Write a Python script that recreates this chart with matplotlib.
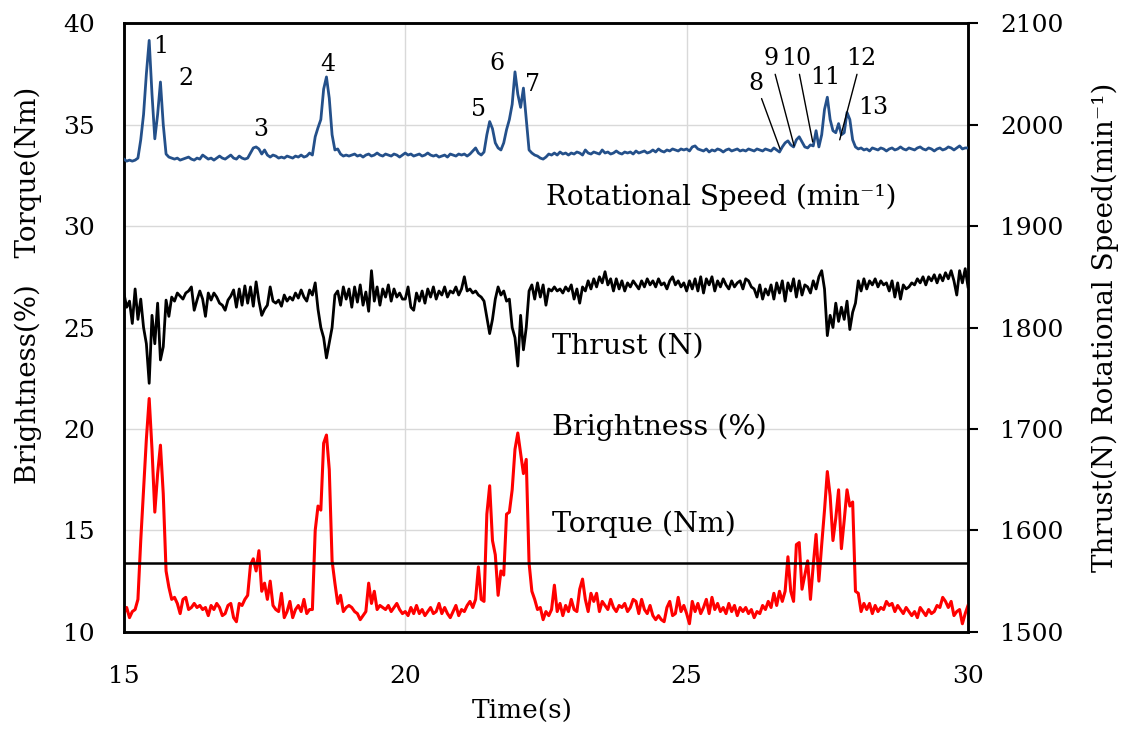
import numpy as np
import matplotlib
matplotlib.use("Agg")
import matplotlib.pyplot as plt

plt.rcParams['font.family'] = ['DejaVu Serif']

# ---------------- data (sampled every 0.05 s from 15.00 s to 30.00 s) ----------------
time = np.round(15 + 0.05 * np.arange(301), 2)

# Rotational speed (min^-1), right axis
rot_speed = [
    1966, 1964, 1965, 1964, 1965, 1967, 1985, 2010, 2050, 2083, 2030, 1986, 2010, 2042, 2000, 1971, 1968, 1967, 1966, 1967,  # 15
    1965, 1966, 1967, 1968, 1966, 1965, 1967, 1966, 1970, 1968, 1966, 1967, 1965, 1967, 1969, 1967, 1966, 1968, 1970, 1967,  # 16
    1966, 1969, 1967, 1966, 1967, 1972, 1977, 1978, 1976, 1971, 1975, 1970, 1968, 1970, 1969, 1967, 1968, 1967, 1969, 1968,  # 17
    1967, 1969, 1968, 1970, 1968, 1969, 1972, 1970, 1988, 1997, 2005, 2035, 2047, 2026, 1990, 1975, 1976, 1971, 1969, 1970,  # 18
    1969, 1970, 1971, 1969, 1970, 1968, 1970, 1971, 1969, 1970, 1972, 1970, 1969, 1971, 1970, 1969, 1971, 1970, 1968, 1970,  # 19
    1972, 1970, 1971, 1969, 1970, 1971, 1969, 1970, 1972, 1970, 1969, 1970, 1968, 1969, 1970, 1968, 1971, 1970, 1969, 1971,  # 20
    1970, 1971, 1969, 1971, 1974, 1977, 1972, 1970, 1973, 1990, 2003, 1996, 1982, 1977, 1975, 1982, 1995, 2005, 2020, 2052,  # 21
    2030, 2017, 2036, 2005, 1975, 1972, 1970, 1969, 1967, 1966, 1968, 1971, 1970, 1972, 1970, 1973, 1971, 1972, 1970, 1972,  # 22
    1971, 1973, 1972, 1970, 1975, 1972, 1971, 1973, 1972, 1971, 1975, 1972, 1973, 1971, 1972, 1974, 1972, 1971, 1973, 1972,  # 23
    1973, 1971, 1974, 1972, 1973, 1974, 1972, 1973, 1975, 1973, 1976, 1974, 1973, 1975, 1974, 1976, 1975, 1974, 1976, 1975,  # 24
    1976, 1974, 1978, 1979, 1976, 1975, 1974, 1976, 1973, 1975, 1974, 1976, 1975, 1973, 1975, 1976, 1974, 1975, 1976, 1974,  # 25
    1975, 1974, 1976, 1975, 1974, 1976, 1975, 1974, 1976, 1975, 1974, 1977, 1975, 1973, 1978, 1982, 1984, 1980, 1978, 1985,  # 26
    1988, 1983, 1978, 1977, 1980, 1979, 1994, 1978, 1990, 2015, 2027, 2005, 1994, 1992, 2001, 1990, 1992, 2012, 2005, 1985,  # 27
    1978, 1976, 1977, 1975, 1976, 1974, 1977, 1976, 1975, 1977, 1976, 1974, 1976, 1977, 1975, 1976, 1978, 1976, 1975, 1977,  # 28
    1976, 1975, 1977, 1978, 1976, 1975, 1977, 1976, 1974, 1976, 1977, 1975, 1976, 1978, 1977, 1975, 1977, 1979, 1976, 1977,  # 29
    1977,
]

# Thrust (N), right axis
thrust = [
    1834, 1820, 1826, 1804, 1838, 1808, 1828, 1800, 1784, 1745, 1812, 1784, 1824, 1768, 1781, 1827, 1811, 1830, 1826, 1834,  # 15
    1831, 1828, 1834, 1836, 1840, 1817, 1827, 1836, 1828, 1811, 1834, 1827, 1834, 1830, 1824, 1822, 1817, 1827, 1831, 1837,  # 16
    1820, 1838, 1822, 1841, 1824, 1840, 1821, 1845, 1826, 1812, 1818, 1822, 1840, 1826, 1824, 1827, 1821, 1832, 1826, 1830,  # 17
    1827, 1834, 1829, 1837, 1830, 1826, 1837, 1832, 1844, 1818, 1800, 1790, 1770, 1785, 1800, 1832, 1836, 1822, 1840, 1828,  # 18
    1838, 1820, 1840, 1825, 1842, 1822, 1835, 1816, 1856, 1826, 1840, 1822, 1838, 1830, 1842, 1826, 1838, 1830, 1834, 1828,  # 19
    1828, 1840, 1820, 1817, 1834, 1826, 1836, 1824, 1838, 1830, 1840, 1828, 1836, 1832, 1840, 1830, 1836, 1834, 1840, 1832,  # 20
    1838, 1850, 1836, 1838, 1834, 1836, 1832, 1830, 1826, 1810, 1794, 1808, 1828, 1840, 1832, 1836, 1826, 1828, 1800, 1790,  # 21
    1762, 1812, 1778, 1800, 1836, 1842, 1828, 1844, 1830, 1842, 1822, 1838, 1836, 1840, 1836, 1838, 1834, 1840, 1836, 1842,  # 22
    1828, 1838, 1824, 1840, 1836, 1846, 1838, 1848, 1840, 1850, 1844, 1855, 1842, 1848, 1836, 1848, 1838, 1846, 1836, 1844,  # 23
    1840, 1846, 1842, 1838, 1846, 1840, 1848, 1842, 1846, 1840, 1848, 1842, 1844, 1838, 1846, 1850, 1842, 1846, 1840, 1844,  # 24
    1836, 1846, 1838, 1848, 1836, 1850, 1834, 1848, 1842, 1850, 1836, 1846, 1840, 1848, 1842, 1838, 1846, 1840, 1844, 1846,  # 25
    1838, 1848, 1846, 1840, 1838, 1830, 1842, 1828, 1838, 1832, 1842, 1828, 1844, 1834, 1846, 1826, 1844, 1836, 1848, 1830,  # 26
    1846, 1832, 1842, 1840, 1834, 1846, 1838, 1850, 1856, 1838, 1792, 1812, 1800, 1824, 1806, 1820, 1808, 1826, 1798, 1815,  # 27
    1824, 1846, 1836, 1848, 1838, 1846, 1842, 1848, 1840, 1846, 1842, 1844, 1836, 1846, 1830, 1844, 1828, 1842, 1838, 1840,  # 28
    1844, 1842, 1848, 1844, 1850, 1842, 1850, 1846, 1852, 1844, 1852, 1846, 1854, 1848, 1856, 1846, 1832, 1856, 1844, 1858,  # 29
    1840,
]

# Brightness (%), left axis
brightness = [
    10.9, 11.2, 10.7, 11.0, 11.1, 11.6, 14.5, 17.0, 19.5, 21.5, 19.0, 15.9, 17.8, 19.2, 16.8, 13.0, 12.2, 11.6, 11.7, 11.4,  # 15
    10.9, 11.6, 11.7, 11.1, 11.2, 11.4, 11.2, 11.3, 11.1, 11.2, 10.8, 11.3, 11.1, 11.4, 11.2, 10.8, 10.9, 11.3, 11.4, 10.7,  # 16
    10.5, 11.4, 11.3, 11.6, 11.8, 13.3, 13.6, 13.0, 14.0, 12.0, 12.4, 11.6, 12.5, 11.3, 11.1, 11.0, 11.9, 10.7, 11.0, 11.5,  # 17
    10.7, 11.1, 11.3, 11.0, 11.6, 10.9, 11.1, 11.1, 15.0, 16.2, 16.0, 19.3, 19.7, 18.0, 13.5, 12.4, 11.4, 11.8, 11.0, 11.2,  # 18
    11.3, 11.2, 11.0, 10.9, 10.6, 10.8, 11.0, 12.4, 11.4, 12.0, 11.1, 11.3, 11.2, 11.1, 11.3, 11.0, 11.2, 11.4, 11.1, 10.9,  # 19
    11.0, 10.8, 11.2, 10.9, 11.3, 10.9, 11.1, 10.8, 11.0, 11.2, 10.9, 11.0, 11.4, 10.9, 11.2, 10.9, 10.7, 11.0, 11.3, 10.8,  # 20
    11.1, 11.0, 11.3, 11.5, 11.2, 11.6, 13.2, 11.6, 11.5, 15.8, 17.2, 14.5, 13.8, 11.8, 13.0, 12.8, 15.8, 15.9, 17.0, 19.0,  # 21
    19.8, 18.8, 17.8, 18.5, 13.4, 12.0, 11.6, 11.1, 11.2, 10.6, 11.0, 10.8, 11.1, 12.3, 11.0, 11.4, 10.8, 11.3, 11.0, 11.6,  # 22
    11.1, 11.0, 12.1, 12.6, 11.6, 11.0, 11.9, 11.5, 11.9, 11.0, 11.5, 11.3, 11.1, 11.6, 11.2, 11.0, 11.3, 11.2, 11.4, 11.0,  # 23
    11.2, 11.6, 11.5, 10.9, 11.6, 11.1, 10.9, 11.3, 10.8, 10.6, 10.8, 10.6, 10.5, 11.2, 11.5, 10.8, 10.9, 11.7, 11.0, 11.3,  # 24
    10.9, 10.4, 11.5, 11.0, 11.4, 10.9, 11.2, 11.6, 10.9, 11.7, 11.1, 11.4, 11.0, 11.2, 10.9, 11.4, 11.0, 11.3, 10.8, 11.2,  # 25
    11.0, 11.2, 10.9, 11.1, 10.7, 11.0, 10.9, 11.3, 11.1, 11.5, 11.2, 11.9, 11.3, 12.0, 11.5, 12.0, 13.7, 12.0, 11.5, 14.3,  # 26
    14.4, 12.1, 12.8, 13.5, 11.6, 13.3, 14.8, 12.5, 14.3, 16.0, 17.9, 16.7, 14.5, 15.6, 17.0, 14.1, 15.5, 17.0, 16.2, 16.4,  # 27
    12.0, 11.9, 11.0, 11.4, 11.1, 11.4, 10.9, 11.3, 11.0, 11.2, 11.1, 11.5, 11.3, 11.4, 11.0, 11.3, 11.1, 10.9, 11.2, 11.0,  # 28
    10.8, 11.0, 10.7, 11.2, 11.0, 10.8, 11.1, 10.9, 11.0, 11.3, 11.2, 11.7, 11.5, 11.2, 11.5, 10.8, 11.0, 11.1, 10.4, 10.9,  # 29
    11.3,
]

# Torque (Nm), left axis (constant level)
torque = 13.4

# Peak annotations: label, label time, label speed
peak_labels = ["1", "2", "3", "4", "5", "6", "7", "8", "9", "10", "11", "12", "13"]
peak_label_t = [15.66, 16.10, 17.43, 18.62, 21.31, 21.63, 22.27, 26.23, 26.50, 26.95, 27.47, 28.10, 28.32]
peak_label_v = [2077, 2045, 1995, 2059, 2015, 2060, 2040, 2041, 2065, 2065, 2046, 2065, 2017]
# leader lines for crowded labels: label -> point on curve
leader_t = {"8": 26.66, "9": 26.91, "10": 27.24, "12": 27.72}
leader_v = {"8": 1976, "9": 1979, "10": 1983, "12": 1985}

# ---------------- figure ----------------
fig = plt.figure(figsize=(11.26, 7.33), dpi=100)
ax = fig.add_axes([0.110, 0.138, 0.7497, 0.8304])
ax2 = ax.twinx()

ax.set_xlim(15, 30)
ax.set_ylim(10, 40)
ax.set_xticks([15, 20, 25, 30])
ax.set_yticks([10, 15, 20, 25, 30, 35, 40])
ax.grid(True, color='#d9d9d9', lw=1.0)
ax.set_axisbelow(True)
ax.tick_params(axis='x', length=0, labelsize=18, pad=24)
ax.tick_params(axis='y', length=0, labelsize=18, pad=21)

ax2.set_ylim(1500, 2100)
ax2.set_yticks(range(1500, 2101, 100))
ax2.tick_params(axis='y', length=7, width=1.5, direction='out', labelsize=18, pad=16)

for a in (ax, ax2):
    for s in a.spines.values():
        s.set_linewidth(1.8)
        s.set_color('black')

ax.plot(time, brightness, color='#ff0000', lw=2.2, zorder=3)
ax.axhline(torque, color='black', lw=1.8, zorder=3)
ax2.plot(time, thrust, color='black', lw=2.0, zorder=3)
ax2.plot(time, rot_speed, color='#24508a', lw=2.0, zorder=3)

ax.set_xlabel('Time(s)', fontsize=19)
ax.xaxis.set_label_coords(0.472, -0.11)
ax.set_ylabel('Brightness(%)   Torque(Nm)', fontsize=20)
ax.yaxis.set_label_coords(-0.097, 0.57)
ax2.set_ylabel('Thrust(N) Rotational Speed(min⁻¹)', fontsize=20, labelpad=20)

# series labels
ax.text(22.5, 31.4, 'Rotational Speed (min⁻¹)', fontsize=20, ha='left', va='center')
ax.text(22.6, 24.1, 'Thrust (N)', fontsize=20.5, ha='left', va='center')
ax.text(22.6, 20.1, 'Brightness (%)', fontsize=20.5, ha='left', va='center')
ax.text(22.6, 15.3, 'Torque (Nm)', fontsize=20.5, ha='left', va='center')

for lab, t, v in zip(peak_labels, peak_label_t, peak_label_v):
    if lab in leader_t:
        ax2.annotate(lab, xy=(leader_t[lab], leader_v[lab]), xytext=(t, v),
                     ha='center', va='center', fontsize=17,
                     arrowprops=dict(arrowstyle='-', lw=1.0, color='black',
                                     shrinkA=1, shrinkB=0))
    else:
        ax2.text(t, v, lab, ha='center', va='center', fontsize=17)

fig.savefig('out.png', dpi=100)
